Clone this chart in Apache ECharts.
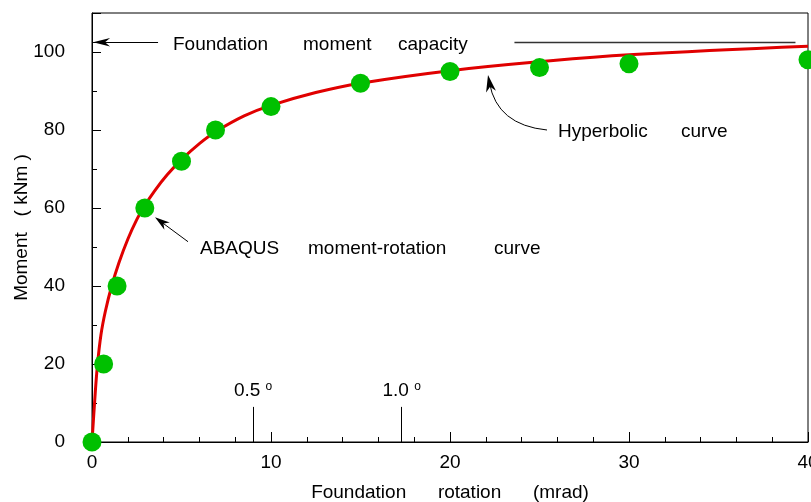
<!DOCTYPE html>
<html>
<head>
<meta charset="utf-8">
<script src="https://cdn.jsdelivr.net/npm/echarts@6/dist/echarts.min.js"></script>
<style>
html,body{margin:0;padding:0;background:#fff;}
#c{width:811px;height:502px;}
</style>
</head>
<body>
<div id="c"></div>
<script>
// ---- data ----
var curveTheta = [0, 0.15, 0.3, 0.5, 0.75, 1.1, 1.5, 2.0, 2.5, 2.9, 3.5, 4.2, 5.0, 6.0, 6.93, 8.5, 10, 12.5, 15, 20, 25, 30, 40];
var curveMoment = [0, 10.5, 19.5, 27.5, 33.6, 40, 45.9, 52.0, 57.0, 60.3, 64.4, 68.5, 72.4, 76.5, 79.6, 83.6, 86.3, 89.6, 92.0, 95.2, 97.5, 99.3, 101.5];
var abaqusTheta = [0, 0.65, 1.4, 2.95, 5, 6.9, 10, 15, 20, 25, 30, 40];
var abaqusMoment = [0, 20, 40, 60, 72, 80, 86, 92, 95, 96, 97, 98];
var capacityMoment = 102.5;
var capacityLeftSeg = [0.06, 3.69];
var capacityRightSeg = [23.6, 39.3];
var degreeTheta = [9.0, 17.3];
var degreeLabels = ['0.5', '1.0'];
var degreeMarkHeight = 9;
var xTicks = {min: 0, max: 40, interval: 10};
var yTicks = {min: 0, max: 110, major: 20, minor: 10, lastLabel: 100};

var FONT = 'Liberation Sans, Arial, sans-serif';
var chart = echarts.init(document.getElementById('c'), null, {renderer: 'canvas'});

function zip(a, b) { return a.map(function (v, i) { return [v, b[i]]; }); }

var degreeLines = degreeTheta.map(function (t, i) {
  return [
    {coord: [t, 0], label: {show: true, position: 'end', distance: 6,
      formatter: degreeLabels[i] + ' {s|o}',
      color: '#000', fontFamily: FONT, fontSize: 19,
      rich: {s: {fontSize: 12, fontFamily: FONT, color: '#000', verticalAlign: 'top', padding: [0, 0, 8, 0]}}}},
    {coord: [t, degreeMarkHeight]}
  ];
});

var option = {
  animation: false,
  backgroundColor: '#fff',
  grid: {left: 92, top: 13, width: 716, height: 429, containLabel: false, outerBoundsMode: 'none',
    show: true, borderColor: '#000', borderWidth: 1, backgroundColor: 'transparent'},
  xAxis: {
    type: 'value', min: xTicks.min, max: xTicks.max, interval: xTicks.interval,
    name: 'Foundation      rotation      (mrad)', nameLocation: 'middle', nameGap: 41, nameMoveOverlap: false,
    nameTextStyle: {fontFamily: FONT, fontSize: 19, color: '#000'},
    axisLine: {show: true, lineStyle: {color: '#000', width: 1}},
    axisTick: {show: true, inside: true, length: 10, lineStyle: {color: '#000'}},
    minorTick: {show: true, splitNumber: 5, length: 5, lineStyle: {color: '#000'}},
    axisLabel: {fontFamily: FONT, fontSize: 19, color: '#000', margin: 11, showMinLabel: true, showMaxLabel: true, hideOverlap: false},
    splitLine: {show: false}
  },
  yAxis: [{
    type: 'value', min: yTicks.min, max: yTicks.max, interval: yTicks.minor,
    name: 'Moment   ( kNm )', nameLocation: 'middle', nameGap: 61, nameMoveOverlap: false,
    nameTextStyle: {fontFamily: FONT, fontSize: 19, color: '#000'},
    axisLine: {show: true, lineStyle: {color: '#000', width: 1}},
    axisTick: {show: true, inside: true, length: 5, lineStyle: {color: '#000'}},
    axisLabel: {fontFamily: FONT, fontSize: 19, color: '#000', margin: 27,
      formatter: function (v) { return (v % yTicks.major === 0 && v <= yTicks.lastLabel) ? String(v) : ''; }},
    splitLine: {show: false}
  }, {
    type: 'value', min: yTicks.min, max: yTicks.max, interval: yTicks.major, position: 'left',
    axisLine: {show: false},
    axisTick: {show: true, inside: true, length: 9, lineStyle: {color: '#000'}},
    axisLabel: {show: false},
    splitLine: {show: false}
  }],
  series: [{
    type: 'line', name: 'Hyperbolic curve', data: zip(curveTheta, curveMoment),
    smooth: 0.4, showSymbol: false, symbol: 'none', z: 2,
    lineStyle: {color: '#e00000', width: 3},
    markLine: {
      silent: true, symbol: ['none', 'none'], animation: false,
      lineStyle: {color: '#000', width: 1, type: 'solid'},
      label: {show: false},
      data: [
        [{coord: [capacityLeftSeg[0], capacityMoment]}, {coord: [capacityLeftSeg[1], capacityMoment]}],
        [{coord: [capacityRightSeg[0], capacityMoment], lineStyle: {color: '#333', width: 1.3}}, {coord: [capacityRightSeg[1], capacityMoment]}]
      ].concat(degreeLines)
    }
  }, {
    type: 'scatter', name: 'ABAQUS moment-rotation curve', data: zip(abaqusTheta, abaqusMoment),
    symbolSize: 19, z: 3, itemStyle: {color: '#00c000', opacity: 1}
  }]
};
chart.setOption(option);

function head(tip, from, len, hw, k) {
  var dx = tip[0] - from[0], dy = tip[1] - from[1];
  var L = Math.sqrt(dx * dx + dy * dy); dx /= L; dy /= L;
  var bx = tip[0] - dx * len, by = tip[1] - dy * len;
  var nx = -dy, ny = dx;
  return {type: 'polygon', z: 10, shape: {points: [
    tip, [bx + nx * hw, by + ny * hw], [tip[0] - dx * len * k, tip[1] - dy * len * k], [bx - nx * hw, by - ny * hw]
  ]}, style: {fill: '#000'}};
}
function txt(s, x, y) {
  return {type: 'text', z: 10, x: x, y: y, style: {text: s, font: '19px ' + FONT, fill: '#000', verticalAlign: 'middle', align: 'left'}};
}

var capTip = chart.convertToPixel({gridIndex: 0}, [capacityLeftSeg[0], capacityMoment]);
var capEnd = chart.convertToPixel({gridIndex: 0}, [capacityLeftSeg[1], capacityMoment]);

var graphics = [
  head(capTip, capEnd, 17, 4.3, 0.7),
  txt('Foundation', 173, 44.5), txt('moment', 303, 44.5), txt('capacity', 398, 44.5),
  txt('Hyperbolic', 558, 132), txt('curve', 681, 132),
  txt('ABAQUS', 200, 249), txt('moment-rotation', 308, 249), txt('curve', 494, 249),
  {type: 'line', z: 10, shape: {x1: 188, y1: 241.7, x2: 160, y2: 221}, style: {stroke: '#000', lineWidth: 1}},
  head([155, 217.3], [188, 241.7], 15, 4.5, 0.7),
  {type: 'bezierCurve', z: 10, shape: {x1: 547, y1: 130, x2: 489.5, y2: 83, cpx1: 497, cpy1: 125}, style: {stroke: '#000', lineWidth: 1, fill: null}},
  head([488, 75], [497, 125], 17, 5, 0.7)
];
chart.setOption({graphic: graphics});
</script>
</body>
</html>
